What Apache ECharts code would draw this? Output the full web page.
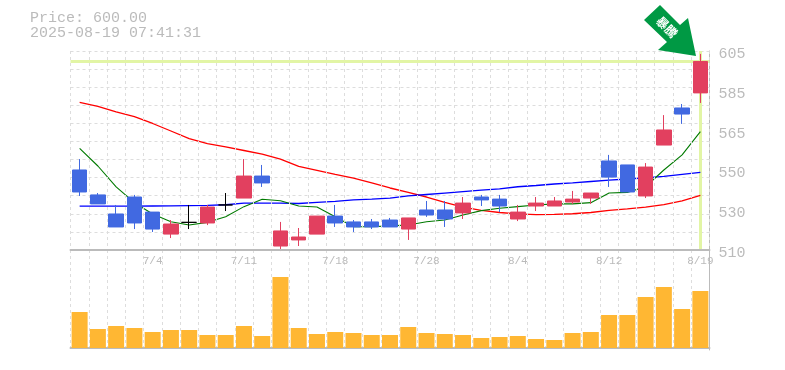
<!DOCTYPE html>
<html>
<head>
<meta charset="utf-8">
<style>html,body{margin:0;padding:0;background:#fff}#c{width:785px;height:370px}</style>
<script src="https://cdn.jsdelivr.net/npm/echarts@6/dist/echarts.min.js"></script>
</head>
<body>
<div id="c"></div>
<script>
const categories = ['6/30','7/1','7/2','7/3','7/4','7/7','7/8','7/9','7/10','7/11','7/14','7/15','7/16','7/17','7/18','7/22','7/23','7/24','7/25','7/28','7/29','7/30','7/31','8/1','8/4','8/5','8/6','8/7','8/8','8/12','8/13','8/14','8/15','8/18','8/19'];
const shownDates = ['7/4','7/11','7/18','7/28','8/4','8/12','8/19'];
// [open, close, low, high]
const candles = [
[548.2,537.7,535.8,553.4],[536.3,532,532,537.2],[527.2,521,521,531.5],[535.3,522.9,520,536.3],[528.1,520,518.6,528.1],
[517.6,522.4,515.7,524.3],[523.2,523.2,520,531.5],[522.9,530.5,521.9,531.5],[531.5,531.5,528.6,537.2],[534.8,545.3,534.8,553.4],
[545.3,542,540.1,550.6],[511.9,519.1,509.5,523.4],[514.8,516.2,511.9,520.5],[517.6,526.2,517.6,526.2],[526.2,522.9,521,531.5],
[523.4,521,518.6,524.3],[523.4,521,520,524.8],[524.3,521,521,525.3],[520,525.3,514.8,525.3],[529.1,526.7,525.8,533.4],
[529.1,524.8,521,533.4],[527.7,532.4,524.8,535.3],[535.3,533.9,531,536.3],[534.3,531,528.1,536.3],[524.8,528.1,523.8,531.5],
[531,532.4,528.6,535.3],[531,533.4,531,535.3],[532.9,534.3,532,538.2],[534.8,537.2,532,537.2],[552.5,544.8,540.1,555.4],
[550.6,537.7,537.7,550.6],[535.8,549.6,534.8,551.5],[560.1,567.3,560.1,574.4],[577.8,574.9,570.2,579.7],[585,600,580.2,603.6]
];
const ma5 = [558.5,550.1,540.1,532.6,527.2,523.5,521.9,523.2,525.9,530.7,534.2,533.5,531,530.5,525.9,521.1,521.1,521.5,521.9,523.5,524.3,526.7,528.8,529.9,530.7,531.5,532,532,532.6,537.2,537.5,540.2,548.2,555.4,566.5];
const ma25 = [530.9,530.9,530.9,530.9,531,531.1,531.2,531.3,531.6,532.4,532.4,532.4,532.2,532.7,533.2,533.9,534.3,534.8,535.8,536.5,537.2,537.9,538.6,539.2,540.2,540.8,541.5,542,542.7,543.4,543.9,544.4,545.1,546.1,547.1];
const ma75 = [580.5,578.6,575.9,573.7,570.4,566.8,563.2,560.8,559.2,557.5,555.8,553.4,549.9,548,546.1,544.3,542,539.6,537.5,535.3,532.7,530.5,528.9,527.9,527.2,526.9,527,527.3,527.9,528.9,529.6,530.5,531.7,533.4,536.1];
const volumes = [36,19,22,20,16,18,18,13,13,22,12,71,20,14,16,15,13,13,21,15,14,13,10,11,12,9,8,15,16,33,33,51,61,39,57];
const priceTicks = [510,529,548,567,586,605];
const priceTickLabels = ['510','530','550','565','585','605'];
const lastPrice = 600;
const headerLines = ['Price: 600.00','2025-08-19 07:41:31'];
const calloutText = '暴騰';

const GREY='#bbbbbb', GRID='#dddddd', UP='#e2405f', DOWN='#4169e1', MONO='"Liberation Mono", monospace';
const dash={color:GRID,type:[3,3],width:1};
const chart = echarts.init(document.getElementById('c'),null,{renderer:'canvas'});
const candleData = candles.map(c => c[0]===c[1]
  ? {value:c,itemStyle:{color:'#000',color0:'#000',borderColor:'#000',borderColor0:'#000',borderColorDoji:'#000'}}
  : {value:c});
chart.setOption({
  animation:false,
  backgroundColor:'#fff',
  grid:[
    {left:70.5,width:639,top:51,height:199},
    {left:70.5,width:639,top:250,height:100}
  ],
  xAxis:[
    {type:'category',gridIndex:0,data:categories,boundaryGap:true,
     axisLine:{lineStyle:{color:GREY,width:2}},axisTick:{show:false},
     splitLine:{show:true,interval:0,lineStyle:dash},
     axisLabel:{interval:0,margin:6,fontFamily:MONO,fontSize:11,color:GREY,
       formatter:v=>shownDates.includes(v)?v:''},z:5},
    {type:'category',gridIndex:1,data:categories,boundaryGap:true,
     axisLine:{lineStyle:{color:GREY,width:2}},axisTick:{show:false},axisLabel:{show:false},
     splitLine:{show:true,interval:0,lineStyle:dash}}
  ],
  yAxis:[
    {type:'value',gridIndex:0,position:'right',min:510,max:605,
     axisLine:{show:true,lineStyle:{color:GREY,width:1}},axisTick:{show:false},splitLine:{show:false},
     axisLabel:{customValues:priceTicks,margin:9,
       rich:{p:{fontFamily:MONO,fontSize:15,color:GREY,padding:[6,0,0,0]}},
       formatter:v=>'{p|'+priceTickLabels[priceTicks.indexOf(v)]+'}'}},
    {type:'value',gridIndex:0,position:'left',min:0,max:11,interval:1,
     axisLine:{show:false},axisTick:{show:false},axisLabel:{show:false},splitLine:{show:true,lineStyle:dash}},
    {type:'value',gridIndex:1,position:'right',min:-2,max:98,
     axisLine:{show:true,lineStyle:{color:GREY,width:1}},axisTick:{show:false},axisLabel:{show:false},splitLine:{show:false}}
  ],
  series:[
    {type:'line',name:'marks',xAxisIndex:0,yAxisIndex:0,data:[],z:1,silent:true,
     markLine:{silent:true,z:1,symbol:'none',label:{show:false},animation:false,
       lineStyle:{color:'#e2f5a5',width:3,type:'solid'},
       data:[{yAxis:lastPrice},{xAxis:categories.length-1}]}},
    {type:'line',name:'MA75',xAxisIndex:0,yAxisIndex:0,data:ma75,symbol:'none',z:2,lineStyle:{color:'#ff0000',width:1.3}},
    {type:'line',name:'MA25',xAxisIndex:0,yAxisIndex:0,data:ma25,symbol:'none',z:2,lineStyle:{color:'#0000ff',width:1.3}},
    {type:'line',name:'MA5',xAxisIndex:0,yAxisIndex:0,data:ma5,symbol:'none',z:2,lineStyle:{color:'#007a00',width:1.1}},
    {type:'candlestick',name:'price',xAxisIndex:0,yAxisIndex:0,data:candleData,barWidth:15,z:3,clip:false,
     itemStyle:{color:UP,color0:DOWN,borderColor:UP,borderColor0:DOWN,borderWidth:1}},
    {type:'bar',name:'volume',xAxisIndex:1,yAxisIndex:2,data:volumes,barWidth:16,itemStyle:{color:'#ffb733'}}
  ],
  graphic:[
    {type:'text',left:30,top:11,silent:true,style:{text:headerLines.join('\n'),fill:GREY,font:'15px '+MONO,lineHeight:14.5}},
    {type:'polygon',silent:true,z:10,shape:{points:[[660,5],[644,20],[667,42],[658,50],[696,56],[688,18],[680,25]]},style:{fill:'#009944'}},
    {type:'text',silent:true,z:11,x:667,y:27,rotation:-Math.PI/4,
     style:{text:calloutText,fill:'#fff',font:'bold 12px "Noto Sans CJK JP"',align:'center',verticalAlign:'middle'}}
  ]
});
</script>
</body>
</html>
